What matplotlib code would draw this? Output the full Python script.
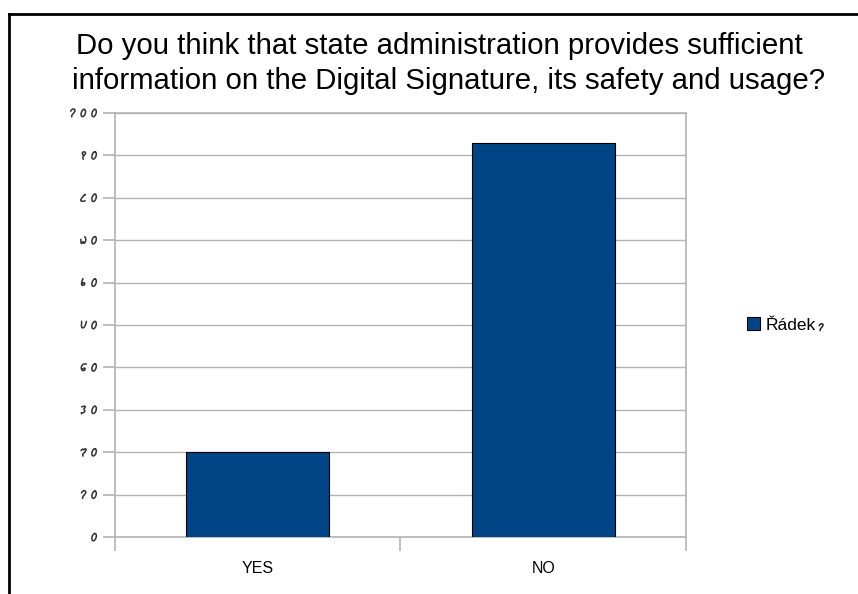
import numpy as np
import matplotlib.pyplot as plt
from matplotlib.lines import Line2D
from matplotlib.path import Path
from matplotlib.patches import PathPatch
from matplotlib.transforms import IdentityTransform

# データ
categories = ["YES", "NO"]
values = [20, 93]
series_name = "Řádek ༡"
tick_values = [0, 10, 20, 30, 40, 50, 60, 70, 80, 90, 100]
tick_labels = ["༠", "༡༠", "༢༠", "༣༠", "༤༠", "༥༠", "༦༠", "༧༠", "༨༠", "༩༠", "༡༠༠"]
title = "Do you think that state administration provides sufficient\ninformation on the Digital Signature, its safety and usage?"

plt.rcParams['font.family'] = ['Liberation Sans', 'DejaVu Sans']

# チベット数字はどのフォントにも無いので線で描く (単位枠 幅0.7 x 高さ1)
_t = np.linspace(0, 2 * np.pi, 25)
GLYPHS = {
    "༠": [list(zip(0.33 + 0.26 * np.sin(_t), 0.48 + 0.46 * np.cos(_t)))],
    "༡": [[(0.05, 0.7), (0.15, 0.98), (0.42, 1.0), (0.62, 0.8), (0.5, 0.5), (0.28, 0.2), (0.35, 0.0)]],
    "༢": [[(0.0, 0.7), (0.15, 0.98), (0.3, 0.72), (0.45, 0.98), (0.66, 0.8), (0.5, 0.45), (0.28, 0.25), (0.4, 0.0)]],
    "༣": [[(0.05, 0.85), (0.3, 1.0), (0.58, 0.85), (0.3, 0.58), (0.62, 0.38), (0.42, 0.08), (0.12, 0.15), (0.22, 0.0)]],
    "༤": [[(0.62, 0.9), (0.35, 1.0), (0.05, 0.7), (0.1, 0.28), (0.4, 0.03), (0.66, 0.22), (0.5, 0.46), (0.3, 0.3)]],
    "༥": [[(0.0, 0.95), (0.08, 0.8), (0.1, 0.3), (0.35, 0.05), (0.6, 0.35), (0.62, 0.95)]],
    "༦": [[(0.18, 1.0), (0.05, 0.5), (0.3, 0.03), (0.62, 0.3), (0.38, 0.56), (0.2, 0.3)]],
    "༧": [[(0.0, 0.6), (0.08, 0.12), (0.28, 0.05), (0.34, 0.42), (0.44, 0.05), (0.66, 0.2), (0.62, 0.72), (0.4, 0.92)]],
    "༨": [[(0.38, 0.78), (0.55, 1.0), (0.3, 0.72), (0.1, 0.4), (0.05, 0.12), (0.3, 0.03), (0.66, 0.1)]],
    "༩": [[(0.32, 0.5), (0.05, 0.72), (0.3, 1.0), (0.62, 0.8), (0.42, 0.5), (0.3, 0.2), (0.45, 0.0)]],
}
GLYPH_W = 0.7
SLANT = 0.22


def glyphPath(ch, x0, y0, h):
    verts, codes = [], []
    for pts in GLYPHS[ch]:
        pts = [(x0 + (px + SLANT * py) * h, y0 + py * h) for px, py in pts]
        verts.append(pts[0])
        codes.append(Path.MOVETO)
        for i in range(1, len(pts) - 1):
            mid = ((pts[i][0] + pts[i + 1][0]) / 2, (pts[i][1] + pts[i + 1][1]) / 2)
            verts += [pts[i], mid]
            codes += [Path.CURVE3, Path.CURVE3]
        verts.append(pts[-1])
        codes.append(Path.LINETO)
    return verts, codes


# 右端 right_x、下端 bottom_y (ピクセル) に数字列を描く
def drawDigits(fig, text, right_x, bottom_y, h, color="#333333", lw=1.1, align="right"):
    adv = 1.35 * h
    total = len(text) * adv - (adv - (GLYPH_W + SLANT) * h)
    x0 = right_x - total if align == "right" else right_x
    verts, codes = [], []
    for i, ch in enumerate(text):
        v, c = glyphPath(ch, x0 + i * adv, bottom_y, h)
        verts += v
        codes += c
    patch = PathPatch(Path(verts, codes), transform=IdentityTransform(), fill=False,
                      edgecolor=color, linewidth=lw, capstyle="round", joinstyle="round")
    fig.add_artist(patch)


fig = plt.figure(figsize=(8.58, 5.94), dpi=100)
ax = fig.add_axes([0.134, 0.096, 0.6655, 0.714])

x = list(range(len(categories)))
ax.bar(x, values, width=0.5, color="#004586", edgecolor="black", linewidth=0.8,
       label=series_name, zorder=3)

ax.set_xlim(-0.5, len(categories) - 0.5)
ax.set_ylim(0, 100)
ax.set_yticks(tick_values)
ax.set_yticklabels([])
ax.set_xticks(x)
ax.set_xticklabels(categories, fontsize=11.5)
ax.tick_params(axis="x", length=0, pad=17)
# カテゴリ境界の目盛り
ax.set_xticks([-0.5, 0.5, 1.5], minor=True)
ax.tick_params(axis="x", which="minor", length=10, color="#b3b3b3", width=1.2)
ax.tick_params(axis="y", length=9, color="#b3b3b3", width=1.2)

ax.yaxis.grid(True, color="#b3b3b3", linewidth=1, zorder=0)
for s in ax.spines.values():
    s.set_color("#b3b3b3")
    s.set_linewidth(1.2)

# タイトル (行ごとに配置)
title_lines = title.split("\n")
fig.text(439.5 / 858, 1 - 46 / 594, title_lines[0], ha="center", va="center", fontsize=21.2)
fig.text(449 / 858, 1 - 81 / 594, title_lines[1], ha="center", va="center", fontsize=21.2)

name_text, name_digit = series_name.split(" ")
bars = ax.containers[0]
leg = ax.legend([bars], [name_text], loc="center left", bbox_to_anchor=(1.08, 0.5), frameon=False,
                fontsize=12.5, handlelength=0.75, handleheight=0.75, handletextpad=0.3)

# 外枠
fig.add_artist(Line2D([9 / 858, 1], [1 - 14 / 594, 1 - 14 / 594], color="black", linewidth=2))
fig.add_artist(Line2D([9 / 858, 9 / 858], [0, 1 - 14 / 594], color="black", linewidth=2))

# 目盛りラベル (チベット数字)
fig.canvas.draw()
renderer = fig.canvas.get_renderer()
h = 8
axis_left = ax.transAxes.transform((0, 0))[0]
for v, lab in zip(tick_values, tick_labels):
    y_px = ax.transData.transform((0, v))[1]
    drawDigits(fig, lab, axis_left - 17, y_px - h / 2, h)

# 凡例の数字
bb = leg.get_texts()[0].get_window_extent(renderer)
drawDigits(fig, name_digit, bb.x1 + 2, bb.y0 + 2, 7, color="#222222", align="left")

fig.savefig("out.png", dpi=100)
